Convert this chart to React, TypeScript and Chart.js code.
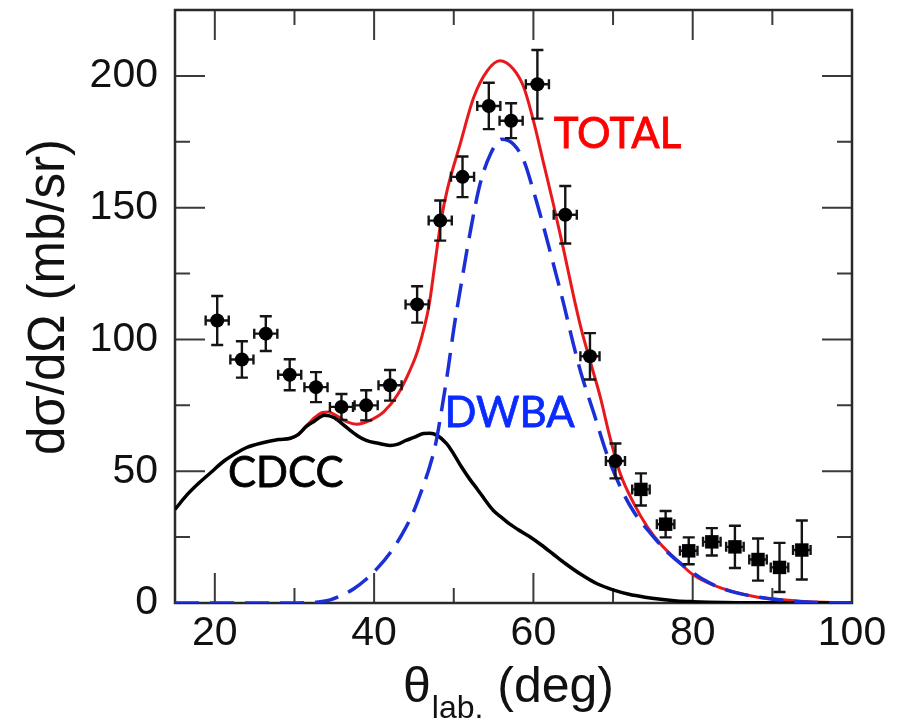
import React, { useEffect, useRef } from 'react';
import { Chart, registerables } from 'chart.js';

Chart.register(...registerables);

// ---- axis ticks ----
const X_MAJOR = [20, 40, 60, 80];
const X_MINOR = [30, 50, 70, 90];
const X_LABELS = [20, 40, 60, 80, 100];
const Y_MAJOR = [50, 100, 150, 200];
const Y_MINOR = [25, 75, 125, 175];
const Y_LABELS = [0, 50, 100, 150, 200];

// ---- CDCC (black solid) ----
const cdccX = [15, 16.5, 18, 19.5, 21, 22.5, 24, 26, 28, 29.5, 30.5, 31.5, 32.5, 33.8, 35, 36, 37, 38, 39, 40.5, 42, 43, 44, 45, 46.2, 47, 47.9, 49.1, 50, 51, 52, 53, 54, 55, 56, 57, 58, 59.5, 61, 62.5, 64, 66, 68, 70, 72, 74, 76, 78, 80, 84, 88, 100];
const cdccY = [35.5, 41, 45.5, 49.5, 53.5, 56.5, 59, 60.8, 62, 62.5, 64, 67, 69, 71.2, 70.3, 68, 65.5, 63.3, 61.7, 60.6, 59.8, 60.3, 61.7, 62.8, 64.3, 64.4, 63.6, 60.5, 56.5, 51.5, 47, 43, 38.8, 35, 32.5, 30, 28, 25.2, 22, 18.5, 15, 10.8, 7.3, 5, 3.3, 2.2, 1.4, 0.8, 0.5, 0.15, 0.05, 0];

// ---- DWBA (blue dashed) ----
const dwbaX = [15, 30, 32, 33, 34.5, 36, 37.5, 39, 40.5, 42, 43.5, 45, 46, 47, 47.7, 48.3, 49.3, 50, 50.8, 52.1, 53.3, 54.6, 56, 57.5, 58.8, 60, 61.3, 62.5, 63.8, 65, 66, 67.6, 69.2, 70.9, 72.6, 74.7, 76.8, 79.3, 81.8, 84.3, 86.8, 90.2, 93, 96, 100];
const dwbaY = [0, 0, 0.2, 0.4, 1.2, 3, 5.5, 9, 13.5, 19, 26, 35, 43, 52, 60, 70, 89, 104, 118.6, 141.3, 159, 170.3, 176, 174.1, 167.8, 156.4, 142.5, 128.7, 113.5, 98.4, 87, 71.9, 56.7, 44.1, 34.6, 26.4, 19.4, 13.1, 8.1, 4.9, 3, 1.4, 0.6, 0.2, 0];

// ---- TOTAL (red solid) ----
const totalX = [29.5, 30.5, 31.5, 32.6, 33.5, 34.3, 35.3, 36.6, 37.8, 39.5, 41.2, 42.9, 44.5, 45.5, 46.9, 47.6, 48.4, 49.2, 50.8, 52.5, 54.2, 55.8, 57.5, 58.8, 60, 61.3, 62.5, 63.8, 65, 66, 67.1, 68.4, 69.6, 70.9, 72.6, 74.3, 75.9, 78, 80.1, 82.6, 85.1, 87.7, 90.2, 93.5, 96.5, 100];
const totalY = [62.5, 64, 67.2, 70.5, 72.3, 72.5, 71, 68.7, 67.8, 69.3, 72.5, 78.8, 88.3, 96, 113, 128, 145, 157, 174.1, 191.8, 201.9, 205.7, 202.5, 195.6, 183, 166.6, 151.4, 134, 117, 104, 92, 78.1, 63, 49.1, 37.8, 28.9, 22.6, 16.3, 10.6, 6.8, 4.3, 2.5, 1.5, 0.7, 0.25, 0.1];

// ---- experimental data (circles) ----
const expCircX = [20.3, 23.4, 26.4, 29.4, 32.7, 35.9, 39.0, 42.0, 45.4, 48.3, 51.1, 54.4, 57.2, 60.5, 64.0, 67.1, 70.3];
const expCircY = [107.2, 92.4, 102.2, 86.6, 81.9, 74.4, 75.0, 82.6, 113.3, 145.1, 161.7, 188.6, 183.0, 196.8, 147.3, 93.6, 53.9];
const expCircYErr = [9.3, 6.9, 6.6, 5.9, 5.7, 4.9, 5.7, 5.8, 6.9, 7.6, 7.7, 8.8, 6.6, 13, 10.9, 8.8, 6.6];
const expCircXErr = [1.45, 1.45, 1.45, 1.45, 1.45, 1.45, 1.45, 1.45, 1.45, 1.45, 1.45, 1.45, 1.45, 1.45, 1.45, 1.2, 1.2];

// ---- experimental data (squares) ----
const expSqX = [73.5, 76.6, 79.5, 82.4, 85.3, 88.2, 90.9, 93.7];
const expSqY = [43.1, 29.9, 19.8, 23.2, 21.3, 16.5, 13.5, 20.1];
const expSqYErr = [6.1, 5.0, 5.1, 5.2, 8.0, 8.0, 9.3, 11.2];
const expSqXErr = [1.1, 1.1, 1.1, 1.1, 1.1, 1.1, 1.1, 1.1];

// ---- labels ----
const LABEL_TOTAL = { text: 'TOTAL', x: 70.55, y: 172.6, color: '#ff0000' };
const LABEL_DWBA = { text: 'DWBA', x: 57.0, y: 66.8, color: '#0a2bff' };
const LABEL_CDCC = { text: 'CDCC', x: 28.9, y: 44.0, color: '#000000' };

const zip = (xs: number[], ys: number[]) => xs.map((x, i) => ({ x, y: ys[i] }));

const SANS = '"Liberation Sans", Arial, Helvetica, sans-serif';

const decorPlugin = {
  id: 'decor',
  beforeDatasetsDraw(chart: any) {
    const { ctx, chartArea: a, scales } = chart;
    const xs = scales.x, ys = scales.y;
    ctx.save();
    ctx.strokeStyle = '#3a3a3a';
    ctx.lineWidth = 2;
    const tick = (vals: number[], len: number) => {
      vals.forEach((v) => {
        const px = xs.getPixelForValue(v);
        ctx.beginPath();
        ctx.moveTo(px, a.bottom); ctx.lineTo(px, a.bottom - len);
        ctx.moveTo(px, a.top); ctx.lineTo(px, a.top + len);
        ctx.stroke();
      });
    };
    const tickY = (vals: number[], len: number) => {
      vals.forEach((v) => {
        const py = ys.getPixelForValue(v);
        ctx.beginPath();
        ctx.moveTo(a.left, py); ctx.lineTo(a.left + len, py);
        ctx.moveTo(a.right, py); ctx.lineTo(a.right - len, py);
        ctx.stroke();
      });
    };
    tick(X_MAJOR, 30); tick(X_MINOR, 15);
    tickY(Y_MAJOR, 30); tickY(Y_MINOR, 15);
    ctx.lineWidth = 2.5;
    ctx.strokeStyle = '#2a2a2a';
    ctx.strokeRect(a.left, a.top, a.right - a.left, a.bottom - a.top);
    ctx.restore();
  },
  beforeDatasetDraw(chart: any, args: any) {
    const ds = chart.data.datasets[args.index];
    if (!ds.yErr) return;
    const { ctx, scales } = chart;
    const xs = scales.x, ys = scales.y;
    ctx.save();
    ctx.strokeStyle = '#141414';
    ctx.lineWidth = 2.4;
    ds.data.forEach((p: any, i: number) => {
      const px = xs.getPixelForValue(p.x);
      const py = ys.getPixelForValue(p.y);
      const yTop = ys.getPixelForValue(p.y + ds.yErr[i]);
      const yBot = ys.getPixelForValue(p.y - ds.yErr[i]);
      const xL = xs.getPixelForValue(p.x - ds.xErr[i]);
      const xR = xs.getPixelForValue(p.x + ds.xErr[i]);
      ctx.beginPath();
      ctx.moveTo(px, yTop); ctx.lineTo(px, yBot);
      ctx.moveTo(px - 6, yTop); ctx.lineTo(px + 6, yTop);
      ctx.moveTo(px - 6, yBot); ctx.lineTo(px + 6, yBot);
      ctx.moveTo(xL, py); ctx.lineTo(xR, py);
      ctx.moveTo(xL, py - 5); ctx.lineTo(xL, py + 5);
      ctx.moveTo(xR, py - 5); ctx.lineTo(xR, py + 5);
      ctx.stroke();
    });
    ctx.restore();
  },
  afterDraw(chart: any) {
    const { ctx, scales } = chart;
    const xs = scales.x, ys = scales.y;
    ctx.save();
    // curve labels
    ctx.font = '42px Lato, "Open Sans", sans-serif';
    ctx.textAlign = 'center';
    ctx.textBaseline = 'alphabetic';
    [LABEL_TOTAL, LABEL_DWBA, LABEL_CDCC].forEach((l) => {
      ctx.fillStyle = l.color;
      ctx.strokeStyle = l.color;
      ctx.lineWidth = 0.8;
      const px = xs.getPixelForValue(l.x), py = ys.getPixelForValue(l.y);
      ctx.fillText(l.text, px, py);
      ctx.strokeText(l.text, px, py);
    });
    // y title
    ctx.fillStyle = '#111';
    ctx.font = `51px ${SANS}`;
    ctx.save();
    ctx.translate(50, 297);
    ctx.rotate(-Math.PI / 2);
    ctx.textAlign = 'center';
    ctx.textBaseline = 'middle';
    ctx.fillText('dσ/dΩ (mb/sr)', 0, 0);
    ctx.restore();
    // x title with subscript
    ctx.textAlign = 'left';
    ctx.textBaseline = 'alphabetic';
    const big = `50px ${SANS}`;
    const small = `32px ${SANS}`;
    ctx.font = big;
    const wTh = ctx.measureText('θ').width;
    const wRest = ctx.measureText(' (deg)').width;
    ctx.font = small;
    const wSub = ctx.measureText('lab.').width;
    const total = wTh + wSub + wRest;
    const x0 = 508 - total / 2;
    const base = 702;
    ctx.font = big;
    ctx.fillText('θ', x0, base);
    ctx.font = small;
    ctx.fillText('lab.', x0 + wTh + 1, base + 16);
    ctx.font = big;
    ctx.fillText(' (deg)', x0 + wTh + wSub + 1, base);
    ctx.restore();
  },
};

export default function App() {
  const ref = useRef<HTMLCanvasElement>(null);
  useEffect(() => {
    const chart = new Chart(ref.current as HTMLCanvasElement, {
      type: 'line',
      data: {
        datasets: [
          {
            label: 'exp circles',
            data: zip(expCircX, expCircY),
            yErr: expCircYErr,
            xErr: expCircXErr,
            showLine: false,
            pointStyle: 'circle',
            pointRadius: 7,
            pointBackgroundColor: '#000',
            pointBorderColor: '#000',
            pointBorderWidth: 0,
            order: 0,
          } as any,
          {
            label: 'exp squares',
            data: zip(expSqX, expSqY),
            yErr: expSqYErr,
            xErr: expSqXErr,
            showLine: false,
            pointStyle: 'rect',
            pointRadius: 9.5,
            pointBackgroundColor: '#000',
            pointBorderColor: '#000',
            pointBorderWidth: 0,
            order: 0,
          } as any,
          {
            label: 'DWBA',
            data: zip(dwbaX, dwbaY),
            borderColor: '#1b2fd6',
            borderWidth: 3.5,
            borderDash: [24, 11],
            pointRadius: 0,
            cubicInterpolationMode: 'monotone',
            fill: false,
            order: 1,
          },
          {
            label: 'CDCC',
            data: zip(cdccX, cdccY),
            borderColor: '#000',
            borderWidth: 3.5,
            pointRadius: 0,
            cubicInterpolationMode: 'monotone',
            fill: false,
            order: 2,
          },
          {
            label: 'TOTAL',
            data: zip(totalX, totalY),
            borderColor: '#e8191c',
            borderWidth: 3,
            pointRadius: 0,
            cubicInterpolationMode: 'monotone',
            fill: false,
            order: 3,
          },
        ],
      },
      options: {
        animation: false,
        responsive: true,
        maintainAspectRatio: false,
        layout: { padding: { top: 10, right: 58, left: 0, bottom: 0 } },
        plugins: { legend: { display: false }, tooltip: { enabled: false } },
        scales: {
          x: {
            type: 'linear',
            min: 15,
            max: 100,
            grid: { display: false, drawTicks: false },
            border: { display: false },
            afterBuildTicks: (s: any) => { s.ticks = X_LABELS.map((v) => ({ value: v })); },
            afterFit: (s: any) => { s.height = 124; s.paddingLeft = 0; s.paddingRight = 0; },
            ticks: { font: { family: SANS, size: 41 }, color: '#111', padding: 6, maxRotation: 0, autoSkip: false },
          },
          y: {
            type: 'linear',
            min: 0,
            max: 225,
            grid: { display: false, drawTicks: false },
            border: { display: false },
            afterBuildTicks: (s: any) => { s.ticks = Y_LABELS.map((v) => ({ value: v })); },
            afterFit: (s: any) => { s.width = 175; s.paddingTop = 0; s.paddingBottom = 0; },
            ticks: { font: { family: SANS, size: 41 }, color: '#111', padding: 17, autoSkip: false },
          },
        },
      } as any,
      plugins: [decorPlugin],
    });
    return () => chart.destroy();
  }, []);
  return (
    <div style={{ position: 'absolute', left: 0, top: 0, width: 910, height: 727, background: '#fff' }}>
      <canvas ref={ref} />
    </div>
  );
}
